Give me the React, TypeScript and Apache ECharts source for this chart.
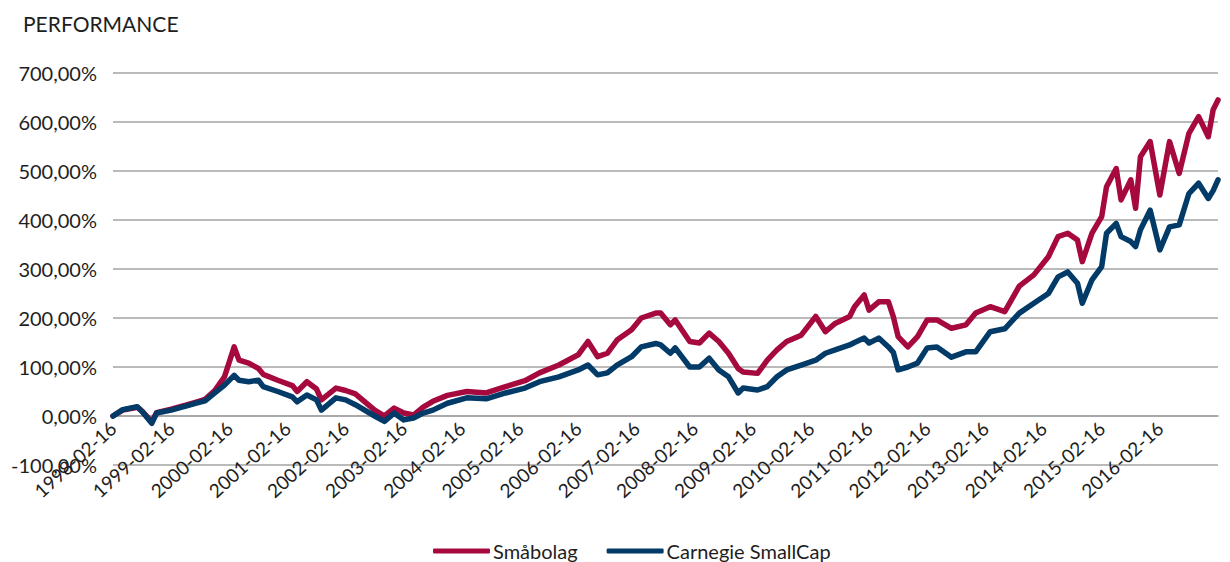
import React, { useEffect, useRef } from "react";
import * as echarts from "echarts";

const chartTitle = "PERFORMANCE";
const seriesNames = ["Småbolag", "Carnegie SmallCap"];
const seriesColors = ["#A6093D", "#023A68"];
const startYear = 1998;
const tickDaySuffix = "-02-16";
const lastLabelledMonth = 216;
const endMonth = 228;
const yMin = -100;
const yMax = 700;
const yStep = 100;

// months since 1998-02-16
const months = [
  0, 2, 5, 6, 8, 9, 12, 15, 17, 19,
  21, 23, 25, 26, 28, 30, 31, 34, 37, 38,
  40, 42, 43, 46, 48, 50, 54, 56, 58, 60,
  62, 64, 66, 69, 73, 77, 81, 85, 88, 92,
  96, 98, 100, 102, 104, 107, 109, 112, 113, 115,
  116, 119, 121, 123, 125, 127, 129, 130, 133, 135,
  137, 139, 142, 145, 147, 149, 152, 153, 155, 156,
  158, 160, 161, 162, 164, 166, 168, 170, 173, 176,
  178, 181, 184, 187, 190, 193, 195, 197, 199, 200,
  202, 204, 205, 207, 208, 210, 211, 212, 214, 216,
  218, 220, 222, 224, 226, 227, 228,
];

// performance in %
const smabolag = [
  0, 12, 18, 10, -12, 7, 14, 22, 28, 34,
  52, 80, 141, 114, 108, 97, 85, 73, 62, 50,
  70, 55, 33, 57, 52, 45, 12, 0, 16, 6,
  2, 18, 30, 42, 50, 47, 60, 72, 88, 104,
  125, 152, 121, 128, 155, 176, 200, 210, 210, 186,
  196, 152, 149, 169, 152, 128, 97, 90, 87, 114,
  135, 152, 165, 203, 172, 189, 203, 223, 247, 216,
  233, 233, 203, 162, 141, 162, 196, 196, 179, 186,
  210, 223, 213, 265, 288, 325, 366, 373, 359, 315,
  373, 407, 468, 505, 441, 482, 424, 529, 560, 451,
  560, 495, 577, 611, 570, 625, 645,
];

const carnegie = [
  0, 13, 19, 9, -15, 6, 12, 20, 26, 31,
  47, 63, 83, 73, 70, 73, 60, 50, 39, 29,
  43, 33, 12, 37, 33, 23, 0, -11, 6, -8,
  -4, 6, 12, 26, 37, 35, 47, 57, 70, 80,
  94, 104, 84, 88, 104, 121, 141, 148, 145, 128,
  139, 100, 100, 118, 94, 80, 47, 57, 53, 60,
  80, 94, 104, 114, 128, 135, 145, 150, 159, 149,
  159, 141, 130, 94, 100, 108, 139, 141, 120, 131,
  131, 172, 178, 210, 230, 250, 284, 294, 271, 230,
  278, 305, 373, 393, 366, 356, 346, 380, 420, 339,
  386, 390, 454, 475, 444, 460, 482,
];

const FONT = "Lato, 'Noto Sans', sans-serif";
const TEXT_COLOR = "#1e1e1e";
const GRID_COLOR = "#a3a3a3";
const GRID_TOP = 73;
const GRID_BOTTOM = 97;
const GRID_HEIGHT = 562 - GRID_TOP - GRID_BOTTOM;

export default function App() {
  const ref = useRef<HTMLDivElement>(null);

  useEffect(() => {
    document.body.style.margin = "0";
    if (!ref.current) return;
    const chart = echarts.init(ref.current, undefined, { renderer: "svg" });
    const toPairs = (vals: number[]) => months.map((m, i) => [m, vals[i]]);
    // place the category labels just below the 0 % line, as in the original
    const zeroOffset = -((0 - yMin) / (yMax - yMin)) * GRID_HEIGHT;
    chart.setOption({
      animation: false,
      backgroundColor: "#ffffff",
      title: {
        text: chartTitle,
        left: 18,
        top: 8,
        textStyle: { fontFamily: FONT, fontSize: 21, fontWeight: "normal", color: TEXT_COLOR },
      },
      legend: {
        left: 428,
        top: 536,
        itemWidth: 57,
        itemHeight: 5,
        itemGap: 29,
        icon: "roundRect",
        data: seriesNames,
        textStyle: { fontFamily: FONT, fontSize: 20, color: TEXT_COLOR, padding: [0, 0, 0, -2] },
      },
      grid: { left: 113, right: 12, top: GRID_TOP, bottom: GRID_BOTTOM, containLabel: false },
      xAxis: {
        type: "value",
        position: "bottom",
        offset: zeroOffset,
        min: 0,
        max: endMonth,
        interval: 12,
        axisLine: { show: true, onZero: false, lineStyle: { color: GRID_COLOR, width: 1.5 } },
        axisTick: { show: false },
        splitLine: { show: false },
        axisLabel: {
          rotate: 42,
          margin: 9,
          fontFamily: FONT,
          fontSize: 19,
          color: TEXT_COLOR,
          formatter: (v: number) =>
            v % 12 === 0 && v <= lastLabelledMonth ? `${startYear + v / 12}${tickDaySuffix}` : "",
        },
      },
      yAxis: {
        type: "value",
        min: yMin,
        max: yMax,
        interval: yStep,
        axisLine: { show: false },
        axisTick: { show: false },
        splitLine: { lineStyle: { color: GRID_COLOR, width: 1.5 } },
        axisLabel: {
          margin: 16,
          fontFamily: FONT,
          fontSize: 20,
          color: TEXT_COLOR,
          formatter: (v: number) => `${v},00%`,
        },
      },
      series: [
        {
          name: seriesNames[0],
          type: "line",
          data: toPairs(smabolag),
          showSymbol: false,
          symbol: "none",
          color: seriesColors[0],
          lineStyle: { width: 5.5, color: seriesColors[0], join: "round", cap: "round" },
        },
        {
          name: seriesNames[1],
          type: "line",
          data: toPairs(carnegie),
          showSymbol: false,
          symbol: "none",
          color: seriesColors[1],
          lineStyle: { width: 5.5, color: seriesColors[1], join: "round", cap: "round" },
        },
      ],
    });
    return () => chart.dispose();
  }, []);

  return <div ref={ref} style={{ width: 1230, height: 562 }} />;
}
